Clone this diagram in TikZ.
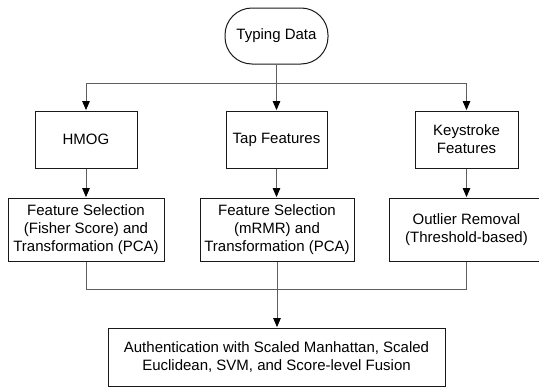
\documentclass[tikz,border=0pt]{standalone}
\usepackage{fontspec}
\setmainfont{Liberation Sans}
\usepackage{tikz}
\usetikzlibrary{arrows.meta}
\definecolor{FlowBoxColor}{RGB}{25,25,25}
\definecolor{FlowLineColor}{RGB}{95,95,95}

\begin{document}
\begin{tikzpicture}[x=1pt,y=1pt,font=\fontsize{15}{18}\selectfont,
  box/.style n args={2}{draw=FlowBoxColor,line width=1pt,rectangle,align=center,inner sep=0pt,minimum width=#1pt,minimum height=#2pt},
  startbox/.style={box={103}{56},rounded corners=27pt},
  conn/.style={draw=FlowLineColor,line width=0.8pt},
  arr/.style={conn,-{Triangle[width=7.5pt,length=9pt,color=black]},shorten >=0.4pt}]
\useasboundingbox (0,0) rectangle (539,-388);
\node[startbox](td) at (276.5,-36) {Typing Data};
\node[box={102}{57}](hmog) at (86,-139.5) {HMOG};
\node[box={101}{57}](tap) at (276.5,-139.5) {Tap Features};
\node[box={103}{57}](key) at (466.5,-139.5) {Keystroke\\Features};
\node[box={156}{63}](fs1) at (86,-229.5) {Feature Selection\\(Fisher Score) and\\Transformation (PCA)};
\node[box={154}{63}](fs2) at (277,-229.5) {Feature Selection\\(mRMR) and\\Transformation (PCA)};
\node[box={154}{63}](outl) at (466.5,-229.5) {Outlier Removal\\(Threshold-based)};
\node[box={337}{58}](auth) at (276.5,-357) {Authentication with Scaled Manhattan, Scaled\\Euclidean, SVM, and Score-level Fusion};
\coordinate (split) at (276.5,-83);
\coordinate (join) at (277,-289);
\draw[arr] (td.south) -- (tap.north);
\draw[arr] (split) -| (hmog.north);
\draw[arr] (split) -| (key.north);
\draw[arr] (hmog.south) -- (fs1.north);
\draw[arr] (tap.south) -- (fs2.north -| tap.south);
\draw[arr] (key.south) -- (outl.north -| key.south);
\draw[conn] (fs1.south) |- (join);
\draw[conn] (outl.south) |- (join);
\draw[arr] (fs2.south) -- (auth.north -| fs2.south);
\end{tikzpicture}
\end{document}
